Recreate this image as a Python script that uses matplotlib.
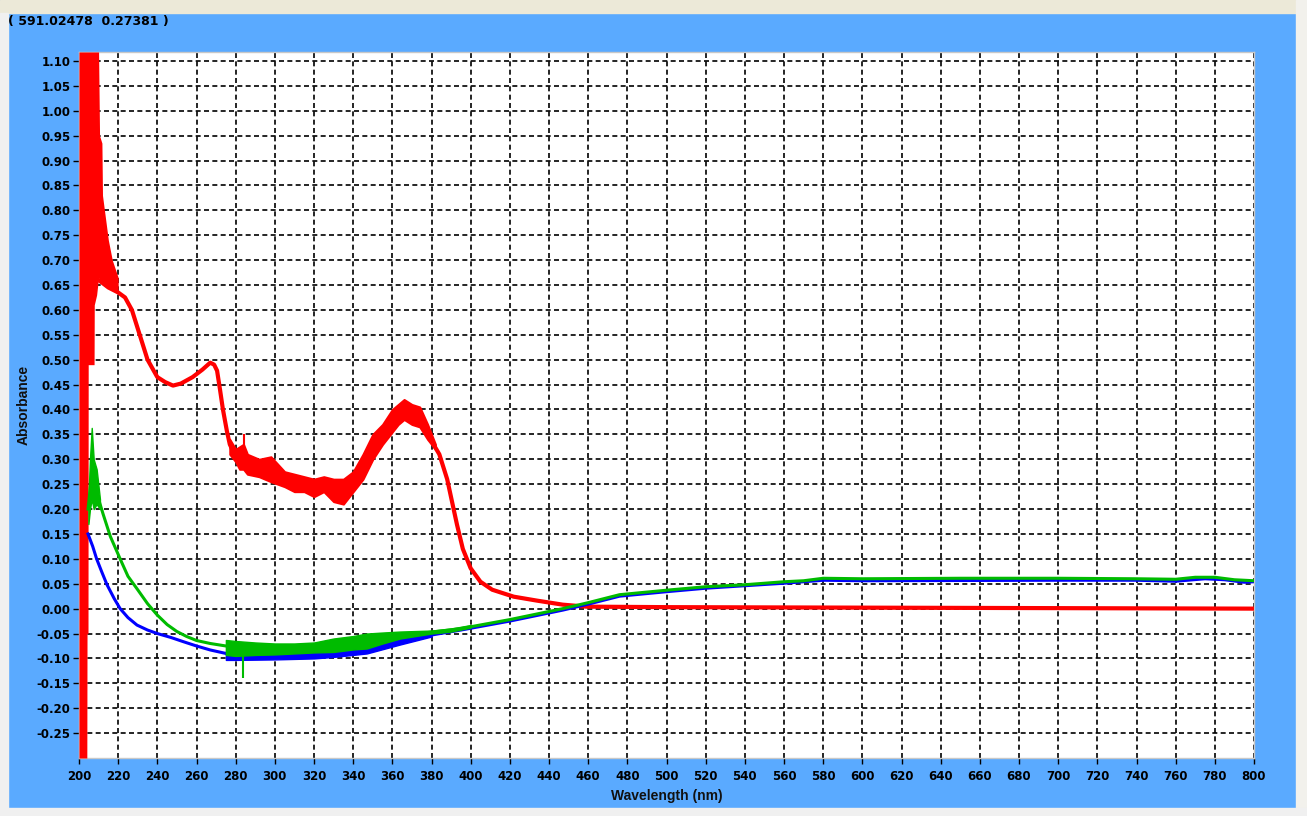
import matplotlib.pyplot as plt
import numpy as np

# spectra (wavelength nm, absorbance)
red_w = [210, 215, 220, 223.5, 227, 231, 235, 240, 244, 248, 252, 258, 263, 267, 269,
         270.5, 272, 273.5, 275.5, 277, 280, 285, 292, 300, 310, 320, 330, 335, 340,
         344, 347, 350, 354, 358, 362, 366, 370, 374, 378, 381, 384, 388, 393, 396,
         400, 405, 411, 422, 434, 447, 459, 500, 600, 700, 800]
red_a = [0.66, 0.645, 0.635, 0.625, 0.60, 0.55, 0.50, 0.465, 0.455, 0.448, 0.452, 0.465,
         0.48, 0.494, 0.49, 0.478, 0.44, 0.40, 0.357, 0.33, 0.305, 0.29, 0.283, 0.27,
         0.255, 0.245, 0.24, 0.235, 0.255, 0.28, 0.30, 0.33, 0.35, 0.375, 0.395, 0.40,
         0.395, 0.385, 0.355, 0.33, 0.31, 0.26, 0.169, 0.12, 0.081, 0.054, 0.038, 0.024,
         0.016, 0.008, 0.004, 0.003, 0.002, 0.001, 0.0]

# saturated start of the red trace
red_sat_w = [200, 204, 204.1, 204.6, 204.7, 207.7, 207.8, 209, 210, 210.5, 211.7, 212, 215, 217, 220]
red_sat_hi = [1.118, 1.118, 1.118, 1.118, 1.118, 1.118, 1.118, 1.118, 1.118, 0.95, 0.935, 0.83, 0.74, 0.70, 0.665]
red_sat_lo = [-0.30, -0.30, -0.05, -0.05, 0.49, 0.49, 0.61, 0.63, 0.665, 0.66, 0.655, 0.65, 0.645, 0.64, 0.635]

# noisy band of the red trace
red_nz_w = [277, 280, 282, 284, 286, 292, 298, 305, 310, 315, 320, 325, 330, 335, 340,
            345, 350, 355, 360, 363, 366, 370, 374, 378, 382]
red_nz_hi = [0.34, 0.32, 0.325, 0.33, 0.31, 0.30, 0.305, 0.275, 0.27, 0.265, 0.26, 0.265,
             0.26, 0.26, 0.275, 0.31, 0.35, 0.37, 0.40, 0.41, 0.42, 0.41, 0.405, 0.37, 0.33]
red_nz_lo = [0.31, 0.295, 0.28, 0.28, 0.27, 0.265, 0.255, 0.245, 0.235, 0.235, 0.225, 0.235,
             0.215, 0.21, 0.235, 0.26, 0.30, 0.33, 0.355, 0.37, 0.38, 0.37, 0.365, 0.34, 0.32]

green_w = [204.6, 206, 208, 210, 212.3, 216, 221, 225, 229.6, 235, 240, 245, 250, 255,
           260, 267, 275, 280, 290, 300, 310, 320, 330, 340, 350, 360, 374, 395, 420, 447,
           460, 476, 500, 520, 540, 560, 570, 580, 600, 650, 700, 740, 760, 770, 780, 790, 800]
green_a = [0.20, 0.25, 0.25, 0.22, 0.19, 0.145, 0.10, 0.065, 0.04, 0.01, -0.013, -0.032,
           -0.046, -0.056, -0.064, -0.07, -0.075, -0.078, -0.08, -0.081, -0.08, -0.078,
           -0.073, -0.068, -0.062, -0.055, -0.05, -0.04, -0.022, 0.0, 0.012, 0.028, 0.037,
           0.044, 0.048, 0.054, 0.056, 0.061, 0.06, 0.061, 0.061, 0.06, 0.059, 0.063, 0.063,
           0.058, 0.056]
green_nz_w = [204.8, 205.6, 206.5, 207.5, 209, 210.7, 275, 280, 290, 300, 310, 320, 330,
              340, 347, 355, 364, 372, 380, 390, 400]
green_nz_hi = [0.22, 0.30, 0.363, 0.30, 0.28, 0.22, -0.063, -0.065, -0.068, -0.07, -0.07,
               -0.068, -0.06, -0.055, -0.05, -0.048, -0.046, -0.045, -0.044, -0.04, -0.033]
green_nz_lo = [0.17, 0.20, 0.22, 0.20, 0.21, 0.20, -0.093, -0.095, -0.093, -0.092, -0.09,
               -0.088, -0.087, -0.082, -0.08, -0.07, -0.06, -0.055, -0.05, -0.046, -0.038]

blue_w = [204.6, 207, 209, 211.5, 214.3, 218, 221, 225, 229.6, 235, 240, 247, 253, 260,
          267, 275, 290, 310, 330, 347, 364, 380, 395, 420, 447, 460, 476, 500, 520, 540,
          560, 580, 600, 700, 740, 760, 775, 785, 795, 800]
blue_a = [0.15, 0.125, 0.10, 0.075, 0.048, 0.02, 0.0, -0.018, -0.033, -0.043, -0.05,
          -0.058, -0.066, -0.075, -0.083, -0.09, -0.096, -0.096, -0.092, -0.083, -0.066,
          -0.053, -0.043, -0.025, -0.003, 0.009, 0.025, 0.034, 0.041, 0.046, 0.051, 0.057,
          0.056, 0.057, 0.057, 0.055, 0.06, 0.058, 0.053, 0.054]
blue_nz_w = [275, 280, 300, 320, 330, 347, 364, 380]
blue_nz_hi = [-0.086, -0.087, -0.09, -0.088, -0.087, -0.075, -0.06, -0.05]
blue_nz_lo = [-0.103, -0.103, -0.102, -0.10, -0.097, -0.09, -0.072, -0.056]

# single spikes
spike_w = [284, 283.8]
spike_lo = [0.30, -0.139]
spike_hi = [0.35, -0.08]
spike_c = ['#ff0000', '#00bb00']

xticks = np.arange(200, 801, 20)
yticks = np.round(np.arange(-0.25, 1.101, 0.05), 2)

BLUE = '#5aaaff'
RED = '#ff0000'
GREEN = '#00bb00'
DBLUE = '#0000ff'

fig = plt.figure(figsize=(13.07, 8.16), dpi=100)
fig.patch.set_facecolor(BLUE)
# window chrome
fig.patches.append(plt.Rectangle((0, 1 - 13/816), 1, 13/816, transform=fig.transFigure,
                                 color='#ece9d8', zorder=0))
fig.patches.append(plt.Rectangle((1296/1307, 0), 11/1307, 1, transform=fig.transFigure,
                                 color='#f2f1ec', zorder=0))
fig.patches.append(plt.Rectangle((0, 0), 1, 8/816, transform=fig.transFigure,
                                 color='#f0f0f0', zorder=0))
fig.patches.append(plt.Rectangle((0, 0), 8/1307, 1 - 13/816, transform=fig.transFigure,
                                 color='#f0f0f0', zorder=0))

ax = fig.add_axes([79/1307, 58/816, 1175/1307, 706/816])
ax.set_facecolor('white')
ax.set_xlim(200, 800)
ax.set_ylim(-0.30, 1.118)

ax.grid(True, color='black', linestyle=(0, (3, 2)), linewidth=1.2)
ax.set_axisbelow(True)

ax.fill_between(red_sat_w, red_sat_lo, red_sat_hi, color=RED, lw=0, zorder=3)
ax.plot(red_w, red_a, color=RED, lw=3, zorder=3)
ax.fill_between(red_nz_w, red_nz_lo, red_nz_hi, color=RED, lw=1.5, edgecolor=RED, zorder=3)

ax.plot(blue_w, blue_a, color=DBLUE, lw=2.2, zorder=4)
ax.fill_between(blue_nz_w, blue_nz_lo, blue_nz_hi, color=DBLUE, lw=1, edgecolor=DBLUE, zorder=4)
ax.plot(green_w, green_a, color=GREEN, lw=2.2, zorder=5)
ax.fill_between(green_nz_w[:6], green_nz_lo[:6], green_nz_hi[:6], color=GREEN, lw=1,
                edgecolor=GREEN, zorder=5)
ax.fill_between(green_nz_w[6:], green_nz_lo[6:], green_nz_hi[6:], color=GREEN, lw=1,
                edgecolor=GREEN, zorder=5)
for w, lo, hi, c in zip(spike_w, spike_lo, spike_hi, spike_c):
    ax.vlines(w, lo, hi, color=c, lw=1.5, zorder=6)

ax.set_xticks(xticks)
ax.set_yticks(yticks)
ax.set_xticklabels([str(int(v)) for v in xticks])
ax.set_yticklabels(['%.2f' % (v + 0.0) for v in yticks])
ax.tick_params(direction='out', length=4, width=1, color='black', pad=2,
               labelsize=8.5)
ax.tick_params(axis='x', pad=5)
for lab in ax.get_xticklabels() + ax.get_yticklabels():
    lab.set_fontweight('bold')
for s in ax.spines.values():
    s.set_color('#c8c8c8')
    s.set_linewidth(1)

ax.set_xlabel('Wavelength (nm)', family='Liberation Sans', fontweight='bold',
              fontsize=10, color='#111111', labelpad=4)
ax.set_ylabel('Absorbance', family='Liberation Sans', fontweight='bold',
              fontsize=10, color='#111111', labelpad=4)

fig.text(8/1307, 1 - 22/816, '( 591.02478  0.27381 )', fontsize=9, fontweight='bold',
         va='center', ha='left')

fig.savefig('out.png', dpi=100, facecolor=fig.get_facecolor())
